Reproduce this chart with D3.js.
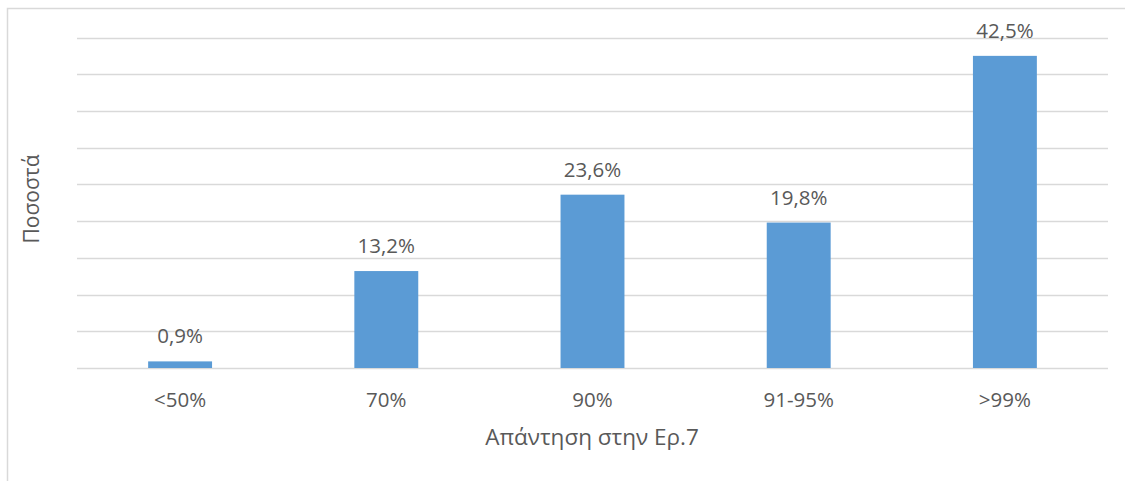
<!DOCTYPE html>
<html><head><meta charset="utf-8">
<script src="https://cdn.jsdelivr.net/npm/d3@7"></script>
<style>body{margin:0;background:#fff}svg{display:block}text{font-family:"Open Sans",sans-serif;fill:#595959}</style>
</head><body><svg id="c" width="1125" height="481"></svg>
<script>
const categories = ["<50%", "70%", "90%", "91-95%", ">99%"];
const values = [0.9, 13.2, 23.6, 19.8, 42.5];
const valueLabels = ["0,9%", "13,2%", "23,6%", "19,8%", "42,5%"];
const yTicks = [0, 5, 10, 15, 20, 25, 30, 35, 40, 45];
const xTitle = "Απάντηση στην Ερ.7";
const yTitle = "Ποσοστά";

const svg = d3.select("#c");
svg.append("rect").attr("x", 7.5).attr("y", 8.5).attr("width", 1140).attr("height", 500)
  .attr("fill", "#fff").attr("stroke", "#d9d9d9").attr("stroke-width", 1.5);

const x = d3.scaleBand().domain(categories).range([77, 1108]).paddingInner(0.69).paddingOuter(0.345);
const y = d3.scaleLinear().domain([0, 45]).range([368, 37.5]);

svg.append("g").selectAll("line").data(yTicks).join("line")
  .attr("x1", 77).attr("x2", 1108)
  .attr("y1", d => Math.round(y(d)) + 0.5).attr("y2", d => Math.round(y(d)) + 0.5)
  .attr("stroke", "#d9d9d9").attr("stroke-width", 1.5);

svg.append("g").selectAll("rect").data(values).join("rect")
  .attr("x", (d, i) => x(categories[i]))
  .attr("width", x.bandwidth())
  .attr("y", d => y(d))
  .attr("height", d => y(0) - y(d))
  .attr("fill", "#5b9bd5");

svg.append("g").selectAll("text").data(values).join("text")
  .attr("x", (d, i) => x(categories[i]) + x.bandwidth() / 2)
  .attr("y", d => y(d) - 18)
  .attr("text-anchor", "middle").attr("font-size", 20.5)
  .text((d, i) => valueLabels[i]);

const xAxis = svg.append("g").attr("transform", "translate(0,368)")
  .call(d3.axisBottom(x).tickSize(0).tickPadding(0));
xAxis.select(".domain").remove();
xAxis.selectAll("text").attr("y", 39).attr("dy", null).attr("font-size", 20.5)
  .style("font-family", "'Open Sans',sans-serif").attr("fill", "#595959");

svg.append("text").attr("x", 592).attr("y", 445).attr("text-anchor", "middle")
  .attr("font-size", 22.5).text(xTitle);
svg.append("text").attr("transform", "translate(39,199) rotate(-90)")
  .attr("text-anchor", "middle").attr("font-size", 21).text(yTitle);
</script></body></html>
